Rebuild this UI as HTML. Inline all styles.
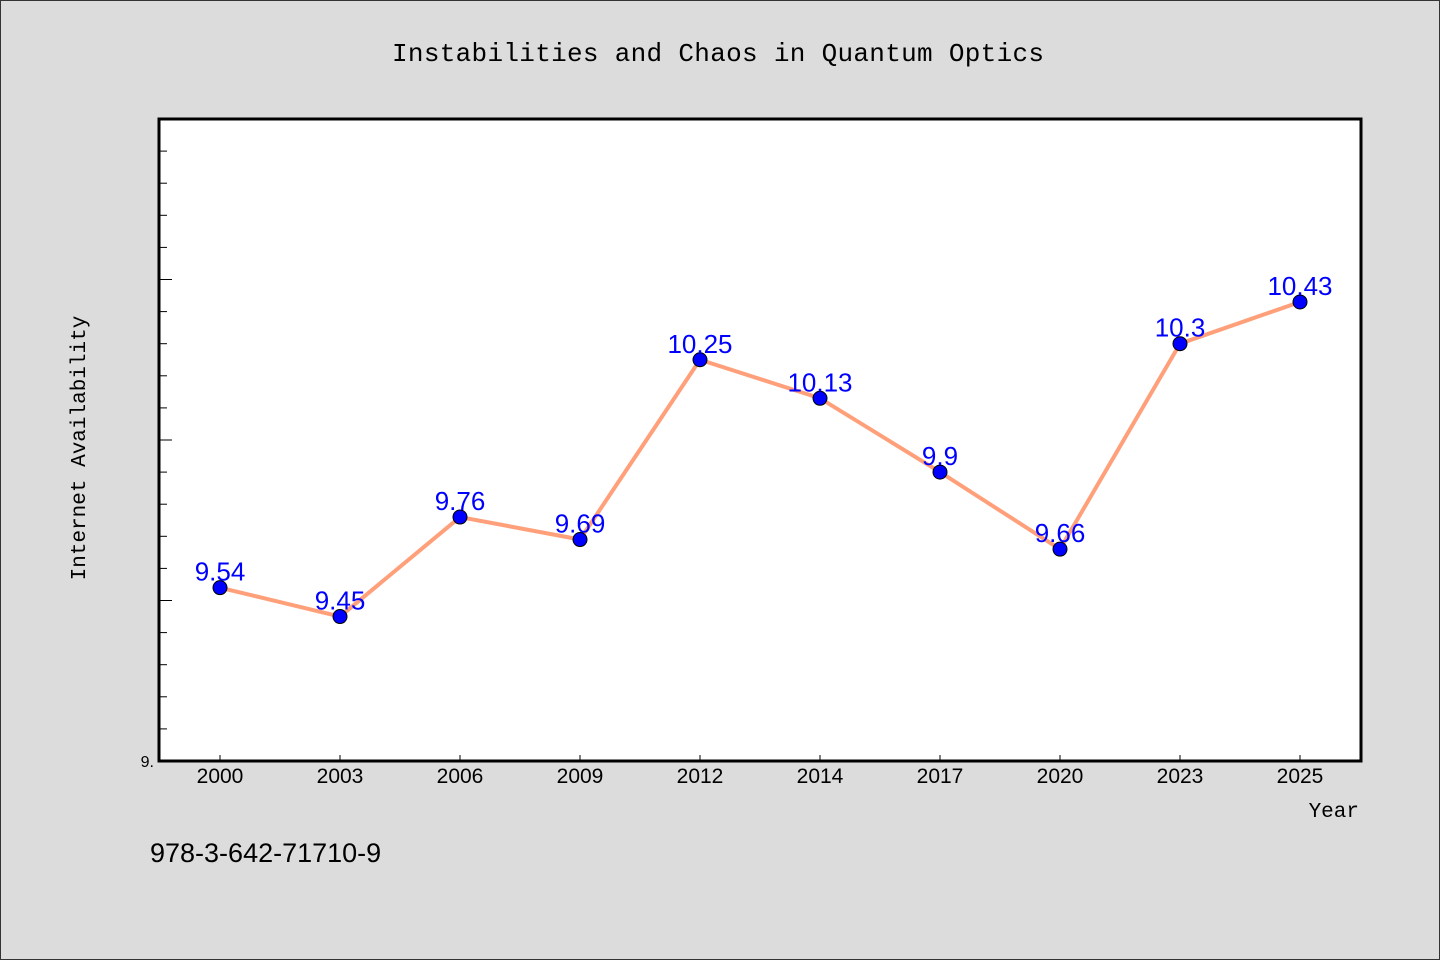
<!DOCTYPE html>
<html><head><meta charset="utf-8"><style>
html,body{margin:0;padding:0;background:#dcdcdc}
svg{display:block}
text{font-family:"Liberation Sans","Noto Sans CJK SC",sans-serif}
.mono{font-family:"Liberation Mono","DejaVu Sans Mono",monospace}
</style></head><body>
<svg id="chart" width="1440" height="960">
<rect x="0.5" y="0.5" width="1439" height="959" fill="#dcdcdc" stroke="#333"/>
<text class="mono" x="718" y="61" font-size="26" text-anchor="middle" textLength="652">Instabilities and Chaos in Quantum Optics</text>
<rect x="159" y="119" width="1202" height="642" fill="#fff" stroke="#000" stroke-width="3"/>
<g id="yticks"></g>
<g id="xticks"></g>
<text class="mono" transform="translate(85,448) rotate(-90)" font-size="21" text-anchor="middle">Internet Availability</text>
<text class="mono" x="1359" y="817" font-size="21" text-anchor="end">Year</text>
<text x="150" y="862" font-size="27">978-3-642-71710-9</text>
<g id="series"></g>
</svg>
<script>
const categories=["2000","2003","2006","2009","2012","2014","2017","2020","2023","2025"];
const values=[9.54,9.45,9.76,9.69,10.25,10.13,9.9,9.66,10.3,10.43];
const valueLabels=["9.54","9.45","9.76","9.69","10.25","10.13","9.9","9.66","10.3","10.43"];
const yMin=9,yMax=11;
const NS="http://www.w3.org/2000/svg";
const L=159,R=1361,T=119,B=761;
function y(v){return B-(v-yMin)/(yMax-yMin)*(B-T);}
function x(i){return 220+i*120;}
function mk(t,a,p){const e=document.createElementNS(NS,t);for(const k in a)e.setAttribute(k,a[k]);p.appendChild(e);return e;}
const yt=document.getElementById('yticks');
for(let k=1;k<20;k++){const v=yMin+k*0.1;const major=k%5===0;
 const t=mk('line',{x1:L,x2:L+(major?13:8),y1:y(v),y2:y(v),stroke:'#000','stroke-width':1},yt);
 }
const yl=mk('text',{x:154,y:767,'font-size':16,'text-anchor':'end'},yt);yl.textContent="9.";

const xt=document.getElementById('xticks');
categories.forEach((c,i)=>{
 const t=mk('line',{x1:x(i),x2:x(i),y1:B,y2:B-6,stroke:'#000'},xt);
 
 const l=mk('text',{x:x(i),y:783,'font-size':21,'text-anchor':'middle'},xt);l.textContent=c;
 });
const s=document.getElementById('series');
const line=mk('polyline',{points:values.map((v,i)=>x(i)+','+y(v)).join(' '),fill:'none',stroke:'#ffa07a','stroke-width':4,'stroke-linejoin':'round'},s);

values.forEach((v,i)=>{
 const c=mk('circle',{cx:x(i),cy:y(v),r:7,fill:'#0000ff',stroke:'#000','stroke-width':1},s);
 
 const t=mk('text',{x:x(i),y:y(v)-7,'font-size':26,'text-anchor':'middle',fill:'#0000ff'},s);t.textContent=valueLabels[i];
 });
</script>
</body></html>
